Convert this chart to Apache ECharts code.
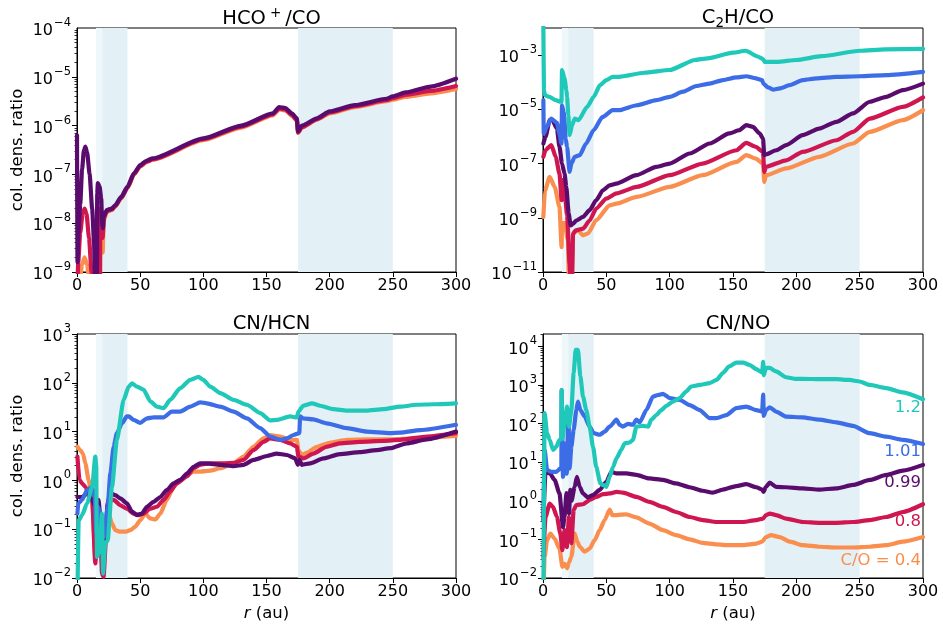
<!DOCTYPE html>
<html><head><meta charset="utf-8">
<script src="https://cdn.jsdelivr.net/npm/echarts@6/dist/echarts.min.js"></script>
<style>html,body{margin:0;padding:0;background:#fff}#c{width:943px;height:627px}</style>
</head><body><div id="c"></div>
<script>
// ---- data: [r (au), log10(column density ratio)] ----
const titles = ['HCO{sp|+}/CO', 'C{sb|2}H/CO', 'CN/HCN', 'CN/NO'];
const xTicks = [0, 50, 100, 150, 200, 250, 300];
const coLabels = ['C/O = 0.4', '0.8', '0.99', '1.01', '1.2'];
const shadeSpans = [[15, 20], [20, 40], [175, 250]];

// Panel 1: HCO+/CO
const hcoOrange = [[0.3,-9.5],[2,-9.2],[4,-8.85],[6,-8.7],[8,-8.85],[10,-9.3],[11,-10],[18,-10],[18.5,-8.3],[19.5,-8.45],[20.3,-8.6],[21.2,-7.95],[23.5,-7.77],[27.5,-7.73],[30,-7.67],[35,-7.49],[40,-7.28],[45,-7.01],[50,-6.84],[55,-6.75],[60,-6.70],[100,-6.30],[130,-6.04],[155,-5.79],[160,-5.67],[165,-5.69],[170,-5.80],[174,-5.90],[175,-6.15],[178,-6.04],[190,-5.88],[200,-5.75],[220,-5.62],[245,-5.50],[250,-5.47],[260,-5.41],[280,-5.34],[300,-5.25]];
const hcoRed = [[0.3,-9.3],[1,-8.8],[2.5,-8.2],[4.5,-7.8],[6,-7.7],[7.5,-7.8],[9.5,-8.3],[11.5,-9.0],[12.5,-9.6],[13,-10],[18,-10],[18.5,-7.7],[19.5,-7.9],[20.3,-8.3],[21.2,-7.9],[23.5,-7.75],[27.5,-7.72],[30,-7.66],[35,-7.48],[40,-7.27],[45,-7.0],[50,-6.83],[55,-6.74],[60,-6.69],[100,-6.28],[130,-6.02],[155,-5.77],[160,-5.65],[165,-5.67],[170,-5.78],[174,-5.88],[175,-6.14],[178,-6.03],[190,-5.87],[200,-5.73],[220,-5.60],[245,-5.48],[250,-5.44],[260,-5.37],[280,-5.29],[300,-5.19]];
const hcoPurple = [[0,-6.2],[0.4,-8.8],[1.2,-8.2],[2.6,-7.6],[4,-6.9],[5.5,-6.5],[6.6,-6.43],[8,-6.55],[10,-7.0],[12,-7.7],[13.5,-8.4],[14.3,-9.2],[14.8,-10],[15.6,-10],[16,-7.4],[16.5,-7.18],[17.9,-7.25],[19.2,-7.5],[19.9,-8.0],[20.5,-8.1],[21.2,-7.87],[23.5,-7.73],[27.5,-7.70],[30,-7.64],[35,-7.46],[40,-7.25],[45,-6.98],[50,-6.81],[55,-6.72],[60,-6.67],[100,-6.26],[130,-6.0],[155,-5.75],[160,-5.62],[165,-5.64],[170,-5.75],[174,-5.85],[175,-6.12],[178,-6.0],[190,-5.85],[200,-5.71],[220,-5.58],[245,-5.45],[250,-5.40],[260,-5.32],[280,-5.20],[300,-5.04]];

// Panel 2: C2H/CO
const c2hOrange = [[0.3,-8.97],[1.5,-8.0],[5.3,-7.49],[9.2,-7.86],[13,-8.6],[14.7,-10.08],[15,-9.2],[17,-9.2],[19.7,-9.83],[20.5,-11.5],[22.5,-11.5],[23.7,-9.58],[27.6,-9.46],[31.6,-9.65],[35.5,-9.58],[42,-9.09],[52.6,-8.54],[58,-8.48],[74,-8.23],[100,-7.86],[126,-7.43],[152.6,-6.94],[160.5,-6.69],[168,-6.82],[173.7,-7.0],[174.7,-7.68],[176,-7.43],[192,-7.18],[218,-6.75],[244.7,-6.26],[258,-5.83],[284,-5.4],[300,-5.03]];
const c2hRed = [[0.3,-6.75],[2,-6.5],[6.6,-6.32],[10,-6.75],[13,-7.37],[14.7,-8.35],[15,-7.6],[17,-8.0],[19,-8.9],[21,-10.7],[22,-11.5],[23,-11.2],[23.7,-9.6],[25.8,-9.46],[31.6,-9.4],[36.8,-9.1],[42,-8.66],[50,-8.29],[58,-8.1],[74,-7.86],[100,-7.43],[126,-7.0],[152.6,-6.51],[160.5,-6.24],[168,-6.38],[173.7,-6.57],[174.7,-7.31],[176,-7.12],[192,-6.88],[205,-6.57],[231.6,-6.14],[244.7,-5.83],[258,-5.34],[284,-4.91],[300,-4.56]];
const c2hPurple = [[0.3,-6.26],[2,-6.02],[5.3,-5.4],[7.4,-5.4],[11,-5.71],[13,-6.38],[15,-7.0],[17,-7.37],[18.4,-7.86],[20.3,-8.85],[21.8,-9.28],[23.7,-9.22],[26.3,-9.1],[31.6,-8.97],[36.8,-8.72],[42,-8.35],[47.4,-7.98],[52.6,-7.8],[57.9,-7.74],[73.7,-7.43],[89.5,-7.12],[100,-7.0],[115.8,-6.63],[131.6,-6.26],[147,-5.89],[155,-5.77],[160.5,-5.58],[165.8,-5.65],[171,-5.89],[173.7,-6.08],[174.7,-6.69],[176,-6.66],[184,-6.51],[192,-6.32],[205,-5.95],[218,-5.71],[231.6,-5.46],[244.7,-5.15],[258,-4.72],[271,-4.54],[284,-4.29],[300,-4.05]];
const c2hBlue = [[0.3,-4.66],[0.6,-5.9],[3,-5.65],[6.5,-5.34],[11,-5.5],[13,-5.9],[14.6,-6.26],[15,-4.85],[16.5,-5.15],[18,-6.1],[19,-6.38],[21,-7.31],[22.4,-7.0],[25,-6.75],[29,-6.69],[34,-6.26],[40,-5.77],[47,-5.28],[55,-5.03],[60,-5.03],[74,-4.85],[89.5,-4.66],[100,-4.54],[110.5,-4.35],[121,-4.14],[131.6,-4.05],[142,-3.92],[152.6,-3.82],[160.5,-3.78],[168,-3.86],[173,-3.92],[174,-4.05],[177.6,-4.19],[181.6,-4.27],[187,-4.23],[194.7,-4.11],[205,-3.92],[216,-3.86],[231.6,-3.8],[250,-3.78],[271,-3.74],[300,-3.62]];
const c2hTeal = [[0.2,-1.5],[0.8,-4.3],[1.5,-4.48],[5,-4.54],[10,-4.66],[14,-4.72],[14.6,-4.72],[15,-3.55],[17,-3.86],[18.5,-4.3],[19,-4.54],[20,-5.2],[21,-5.95],[23,-5.58],[25,-5.34],[28,-5.4],[35,-4.9],[40,-4.54],[45,-4.11],[50,-3.92],[55,-3.8],[60,-3.8],[80,-3.65],[100,-3.55],[120,-3.18],[130,-3.12],[150,-2.91],[160,-2.84],[170,-3.06],[174,-3.16],[175,-3.25],[185,-3.25],[200,-3.18],[220,-3.04],[250,-2.84],[270,-2.79],[300,-2.77]];

// Panel 3: CN/HCN
const hcnOrange = [[0.3,0.69],[2.6,0.62],[4.7,0.55],[6.6,0.35],[9.2,0.01],[12,-0.4],[14.5,-1.64],[17,-0.54],[19.8,-1.7],[22.4,-1.09],[25,-0.68],[27.7,-0.88],[30.3,-1.02],[34.3,-1.05],[38.2,-1.05],[42.2,-1.02],[46,-0.95],[50,-0.82],[54,-0.68],[58,-0.78],[62,-0.8],[66,-0.68],[71,-0.4],[76.5,-0.13],[81.7,0.01],[87,0.11],[92.3,0.18],[97.5,0.18],[105.5,0.2],[113.4,0.25],[124,0.35],[131.8,0.49],[139.7,0.69],[147.6,0.86],[152.9,0.93],[160.8,0.9],[168.7,0.83],[174,0.83],[175.3,0.62],[178,0.52],[182,0.57],[190,0.69],[200,0.77],[213.6,0.83],[229,0.84],[247.8,0.84],[269,0.86],[300,0.91]];
const hcnRed = [[0.3,0.49],[2,0.01],[4,-0.06],[6.6,-0.13],[9.2,-0.27],[12,-0.4],[14.5,-1.7],[15.8,-1.09],[17,-0.54],[18.5,-0.95],[19.8,-1.91],[21,-1.98],[23.2,-1.09],[25,-0.4],[29,-0.4],[34.3,-0.51],[39.5,-0.58],[44.8,-0.68],[48.8,-0.71],[52.7,-0.68],[58,-0.58],[63.3,-0.54],[68.5,-0.4],[73.8,-0.23],[79,-0.06],[87,0.08],[92.3,0.25],[97.5,0.32],[105.5,0.35],[116,0.35],[124,0.36],[131.8,0.42],[139.7,0.62],[147.6,0.79],[152.9,0.86],[160.8,0.83],[168.7,0.76],[174,0.69],[175.3,0.49],[179.3,0.45],[187,0.55],[197.7,0.69],[208,0.76],[224,0.79],[242.6,0.81],[255.7,0.83],[277,0.9],[300,0.97]];
const hcnPurple = [[0.3,-0.34],[4,-0.34],[8,-0.27],[12,-0.4],[14.5,-0.54],[15.8,-0.68],[17,-0.4],[18.5,-0.75],[20.6,-1.23],[22.4,-1.09],[24.3,-0.47],[26.4,-0.27],[30.3,-0.3],[34.3,-0.37],[39.5,-0.47],[43.5,-0.64],[47.5,-0.71],[51.4,-0.68],[55.4,-0.54],[60.6,-0.44],[66,-0.34],[71,-0.2],[76.5,-0.06],[81.7,0.01],[87,0.14],[92.3,0.28],[97.5,0.35],[102.8,0.35],[113.4,0.32],[124,0.29],[131.8,0.32],[139.7,0.42],[150.3,0.5],[158,0.55],[166,0.52],[172.7,0.45],[174.8,0.32],[176,0.42],[178,0.32],[184.6,0.35],[195,0.45],[208,0.54],[224,0.58],[237,0.62],[248,0.66],[261,0.76],[277,0.84],[300,1.0]];
const hcnBlue = [[0.3,-0.68],[1,-0.47],[4,-0.4],[8,-0.2],[12,-0.13],[14,-0.34],[15.3,-1.09],[16.6,-0.54],[18.5,-0.68],[19.8,-0.95],[21.6,-1.16],[24.3,-0.54],[26.4,0.14],[29,0.69],[31.6,0.97],[35.6,1.17],[39.5,1.31],[41,1.31],[44.8,1.24],[50,1.18],[55.4,1.27],[60.6,1.29],[68.5,1.29],[75,1.41],[81.7,1.41],[89.6,1.51],[97.5,1.6],[102.8,1.58],[113.4,1.51],[124,1.41],[134.5,1.27],[145,1.07],[153,0.9],[160.8,0.83],[166,0.86],[171.4,0.93],[176,0.97],[176.6,1.31],[179,1.27],[187,1.25],[197.7,1.17],[213.6,1.07],[229.4,1.0],[247.8,0.97],[255.7,0.98],[271.6,1.03],[300,1.14]];
const hcnTeal = [[0.3,-2.5],[1.3,-0.82],[4,-0.71],[8,-0.47],[12,-0.13],[14.5,0.49],[15.2,0.3],[15.8,-1.57],[17,-1.5],[18.5,-1.09],[19.8,-0.68],[20.6,-1.91],[22.4,-1.29],[24.3,-1.23],[27.7,-0.13],[31.6,0.83],[36.9,1.65],[40.9,1.92],[43.5,1.99],[47.5,1.92],[52.7,1.86],[58,1.62],[63.3,1.51],[68.5,1.48],[73.8,1.65],[81.7,1.89],[89.6,2.06],[96.2,2.12],[100,2.06],[105.5,1.92],[113.4,1.79],[124,1.65],[134.5,1.55],[145,1.38],[152.9,1.23],[158,1.24],[168.7,1.31],[174,1.29],[175.3,1.41],[179,1.53],[186,1.58],[192.5,1.53],[203,1.46],[213.6,1.43],[229,1.43],[242.6,1.46],[255.7,1.51],[269,1.55],[282,1.56],[300,1.58]];

// Panel 4: CN/NO
const noOrange = [[0.3,-2.5],[1.3,-1.45],[3.2,-1.02],[5.8,-0.85],[9.2,-0.98],[13,-1.24],[15.3,-1.71],[17,-1.63],[19,-1.75],[20.5,-1.6],[22.4,-1.45],[25,-0.85],[27,-1.05],[29,-1.19],[32.9,-1.32],[36.8,-1.24],[40.8,-1.02],[44.7,-0.76],[48.7,-0.5],[52.6,-0.23],[54.7,-0.37],[58,-0.37],[65.8,-0.35],[73.7,-0.43],[84,-0.59],[94.7,-0.76],[105,-0.89],[115.8,-1.0],[126,-1.09],[137,-1.13],[147,-1.15],[158,-1.15],[168.4,-1.11],[173,-1.06],[176,-0.94],[180,-0.89],[187,-0.94],[195,-1.06],[205,-1.15],[218,-1.19],[231.6,-1.21],[244.7,-1.21],[258,-1.19],[271,-1.15],[284,-1.06],[300,-0.94]];
const noRed = [[0.3,-1.45],[2,-0.42],[5.3,-0.07],[7.9,-0.16],[11,-0.42],[13.7,-0.85],[15.3,-1.28],[17,-0.76],[18.8,-1.2],[20.5,-0.42],[22.4,-1.1],[24.2,-0.24],[26.3,-0.11],[31.6,-0.09],[36.8,0.02],[42,0.1],[47.4,0.17],[52.6,0.19],[58,0.23],[63,0.21],[73.7,0.1],[84,-0.03],[94.7,-0.16],[105,-0.29],[115.8,-0.42],[126,-0.5],[137,-0.55],[147,-0.55],[158,-0.55],[168.4,-0.5],[173.7,-0.46],[176,-0.37],[179,-0.33],[184,-0.37],[192,-0.46],[205,-0.55],[218,-0.57],[231.6,-0.57],[244.7,-0.55],[258,-0.5],[271,-0.42],[284,-0.29],[300,-0.09]];
const noPurple = [[0.3,-0.5],[2,0.75],[5.3,0.71],[9.2,0.54],[13,0.19],[15.8,-0.68],[17,-0.42],[18.5,0.2],[19.5,0.1],[20.5,-0.33],[21.6,0.28],[22.5,0.0],[25,0.36],[26.8,0.62],[29,0.36],[31.6,0.19],[35.5,0.09],[39.5,0.15],[44.7,0.28],[50,0.49],[54,0.75],[58,0.71],[65.8,0.71],[73.7,0.67],[84,0.58],[94.7,0.54],[105,0.45],[115.8,0.35],[126,0.26],[134,0.21],[142,0.29],[152.6,0.38],[160.5,0.43],[168.4,0.35],[173,0.29],[174,0.23],[176,0.36],[179,0.47],[184,0.36],[192,0.35],[205,0.32],[218,0.29],[231.6,0.32],[244.7,0.41],[258,0.54],[271,0.67],[284,0.78],[300,0.93]];
const noBlue = [[0.3,-0.33],[1.3,1.32],[3.2,0.8],[6.6,0.75],[10.5,0.75],[13.7,0.84],[14.5,0.84],[14.7,2.87],[15.8,0.62],[17.9,1.49],[18.8,0.7],[20,2.35],[21,0.84],[22.4,1.4],[24.2,1.84],[26.3,2.35],[27.6,2.57],[29.5,2.35],[32.9,2.18],[36.8,1.92],[40,1.75],[44.7,1.71],[48.7,1.79],[52.6,1.92],[58,2.1],[60.5,1.97],[63,1.92],[67,1.99],[71,1.97],[73.7,2.1],[76.3,2.03],[81.6,2.35],[86.8,2.7],[90.8,2.74],[94.7,2.77],[100,2.66],[108,2.61],[115.8,2.48],[123.7,2.35],[131.6,2.14],[137,2.14],[144.7,2.22],[152.6,2.4],[160.5,2.44],[168.4,2.35],[173,2.31],[173.8,2.75],[174.3,2.2],[176,2.35],[179,2.42],[184,2.31],[192,2.18],[205,2.16],[218,2.1],[231.6,2.03],[244.7,1.94],[258,1.75],[271,1.66],[284,1.58],[300,1.47]];
const noTeal = [[0.3,-2.5],[1.3,2.27],[3.2,1.75],[5.3,1.58],[7.9,1.32],[10.5,1.4],[13,1.58],[14.5,1.6],[14.7,2.87],[15.3,1.6],[17,2.0],[19,2.44],[20.5,1.92],[22.4,2.35],[24.2,3.31],[25.8,3.91],[27.6,3.91],[29.5,3.22],[31.6,2.7],[34.2,2.35],[36.8,1.92],[39.5,1.4],[42,0.88],[45.3,0.45],[47.4,0.41],[50,0.36],[52.6,0.62],[55.3,0.88],[58,1.1],[61.8,1.32],[64.5,1.49],[68.4,1.51],[71,1.58],[73.7,1.92],[79,1.94],[83,1.92],[85.5,2.1],[89.5,2.22],[93.4,2.35],[97.4,2.46],[102.6,2.57],[108,2.66],[113,2.83],[117,2.96],[123.7,3.0],[131.6,3.05],[137,3.13],[142,3.31],[147,3.48],[152.6,3.58],[158,3.58],[163,3.52],[168.4,3.41],[173,3.32],[173.8,3.6],[174.3,3.25],[176,3.44],[179,3.44],[184,3.35],[192,3.2],[198.7,3.16],[205,3.16],[218,3.15],[231.6,3.15],[242,3.13],[250,3.09],[258,3.0],[271,2.92],[284,2.81],[300,2.63]];

// ---- styling ----
const FONT = 'DejaVu Sans';
const colors = { orange: '#fa8e4e', red: '#cf1650', purple: '#5a0c6e', blue: '#3c6de6', teal: '#1fc8b8' };
const panels = [
  { lines: [['orange', hcoOrange], ['red', hcoRed], ['purple', hcoPurple]], ymin: -9, ymax: -4, step: 1, minor: true },
  { lines: [['orange', c2hOrange], ['red', c2hRed], ['purple', c2hPurple], ['blue', c2hBlue], ['teal', c2hTeal]], ymin: -11, ymax: -2, step: 2, minor: false },
  { lines: [['orange', hcnOrange], ['red', hcnRed], ['purple', hcnPurple], ['blue', hcnBlue], ['teal', hcnTeal]], ymin: -2, ymax: 3, step: 1, minor: true },
  { lines: [['orange', noOrange], ['red', noRed], ['purple', noPurple], ['blue', noBlue], ['teal', noTeal]], ymin: -2, ymax: 4.32, step: 1, minor: true }
];
const grids = [
  { left: 77, top: 28, width: 379, height: 244 },
  { left: 543, top: 28, width: 380, height: 244 },
  { left: 77, top: 334, width: 379, height: 244 },
  { left: 543, top: 334, width: 380, height: 244 }
];
function majorVals(p) {
  const v = [];
  for (let e = Math.ceil(p.ymin); e <= Math.floor(p.ymax); e += p.step) v.push(Math.pow(10, e));
  return v;
}
function minorVals(p) {
  const v = [];
  if (!p.minor) return v;
  for (let e = Math.floor(p.ymin); e <= Math.floor(p.ymax); e++)
    for (let m = 2; m <= 9; m++) {
      const x = m * Math.pow(10, e);
      if (Math.log10(x) > p.ymin && Math.log10(x) < p.ymax) v.push(x);
    }
  return v;
}
function logLabel(step, ymin) {
  return function (v) {
    const l = Math.log10(v), e = Math.round(l);
    if (Math.abs(l - e) > 1e-6) return '';
    if (step === 2 && Math.abs(e - ymin) % 2 !== 0) return '';
    return '{b|10}{s|' + (e < 0 ? '\u2212' : '') + Math.abs(e) + '}';
  };
}
const rich = {
  b: { fontSize: 16, fontFamily: FONT, color: '#000', lineHeight: 22, verticalAlign: 'bottom' },
  s: { fontSize: 11.5, fontFamily: FONT, color: '#000', lineHeight: 22, verticalAlign: 'top', padding: [0, 0, 0, 1] }
};
const titleRich = {
  sp: { fontSize: 13.5, fontFamily: FONT, color: '#000', verticalAlign: 'top', lineHeight: 26, padding: [0, 4, 0, 4] },
  sb: { fontSize: 13.5, fontFamily: FONT, color: '#000', verticalAlign: 'bottom', lineHeight: 22 }
};

const option = { animation: false, backgroundColor: '#fff', grid: [], xAxis: [], yAxis: [], series: [], title: [], graphic: [] };
panels.forEach((p, i) => {
  const g = grids[i];
  option.grid.push(Object.assign({ show: true, borderColor: '#000', borderWidth: 1, backgroundColor: 'transparent' }, g));
  option.title.push({ text: titles[i], left: g.left + g.width / 2, top: g.top - 27, textAlign: 'center',
    textStyle: { fontFamily: FONT, fontSize: 19.5, fontWeight: 'normal', color: '#000', lineHeight: 24, rich: titleRich } });
  option.xAxis.push({
    type: 'value', gridIndex: i, min: 0, max: 300, interval: 50,
    name: i >= 2 ? '{i|r} (au)' : '', nameLocation: 'middle', nameGap: 27,
    nameTextStyle: { fontFamily: FONT, fontSize: 16.5, color: '#000', rich: { i: { fontStyle: 'italic', fontFamily: FONT, fontSize: 16.5, color: '#000' } } },
    axisLine: { show: true, onZero: false, lineStyle: { color: '#000', width: 1 } },
    axisTick: { show: true, inside: false, length: 5, lineStyle: { color: '#000' } },
    axisLabel: { fontFamily: FONT, fontSize: 16, color: '#000', margin: 6 },
    splitLine: { show: false }
  });
});
// main log y axes (indices 0..3)
panels.forEach((p, i) => {
  option.yAxis.push({
    type: 'log', logBase: 10, gridIndex: i, min: Math.pow(10, p.ymin), max: Math.pow(10, p.ymax),
    name: (i % 2 === 0) ? 'col. dens. ratio' : '', nameLocation: 'middle', nameGap: 51,
    nameTextStyle: { fontFamily: FONT, fontSize: 16.5, color: '#000' },
    axisLine: { show: true, onZero: false, lineStyle: { color: '#000', width: 1 } },
    axisTick: { show: true, inside: false, length: 5, lineStyle: { color: '#000' }, customValues: majorVals(p) },
    axisLabel: { formatter: logLabel(p.step, p.ymin), rich: rich, margin: 6, showMinLabel: true, showMaxLabel: true },
    splitLine: { show: false }
  });
});
// minor tick y axes (indices 4..7)
panels.forEach((p, i) => {
  const mv = minorVals(p);
  option.yAxis.push({
    type: 'log', logBase: 10, gridIndex: i, min: Math.pow(10, p.ymin), max: Math.pow(10, p.ymax), position: 'left',
    axisLine: { show: false }, axisLabel: { show: false }, splitLine: { show: false },
    axisTick: { show: mv.length > 0, inside: false, length: 2.5, lineStyle: { color: '#000', width: 0.8 }, customValues: mv.length ? mv : [Math.pow(10, p.ymin)] }
  });
});
panels.forEach((p, i) => {
  p.lines.forEach((ln, k) => {
    const s = {
      type: 'line', xAxisIndex: i, yAxisIndex: i, showSymbol: false, symbol: 'none', clip: true,
      smooth: 0.2, smoothMonotone: 'x',
      data: ln[1].map(d => [d[0], Math.pow(10, d[1])]),
      lineStyle: { color: colors[ln[0]], width: 4.2, cap: 'round', join: 'round' },
      itemStyle: { color: colors[ln[0]] }, z: 3 + k, silent: true
    };
    if (k === 0) {
      s.markArea = { silent: true, itemStyle: { color: '#e3f1f7' },
        data: shadeSpans.map((sp, j) => [{ xAxis: sp[0], itemStyle: { color: j === 0 ? '#eef7fa' : '#e3f1f7' } }, { xAxis: sp[1] }]) };
    }
    option.series.push(s);
  });
});
// C/O labels in the CN/NO panel
const labelColors = ['orange', 'red', 'purple', 'blue', 'teal'];
const labelY = [561, 522, 483, 452, 408];
coLabels.forEach((t, k) => {
  option.graphic.push({ type: 'text', x: 921, y: labelY[k], z: 100,
    style: { text: t, fill: colors[labelColors[k]], font: '16.5px "DejaVu Sans"', textAlign: 'right', textVerticalAlign: 'middle' } });
});
const chart = echarts.init(document.getElementById('c'), null, { renderer: 'canvas' });
chart.setOption(option);
</script></body></html>
